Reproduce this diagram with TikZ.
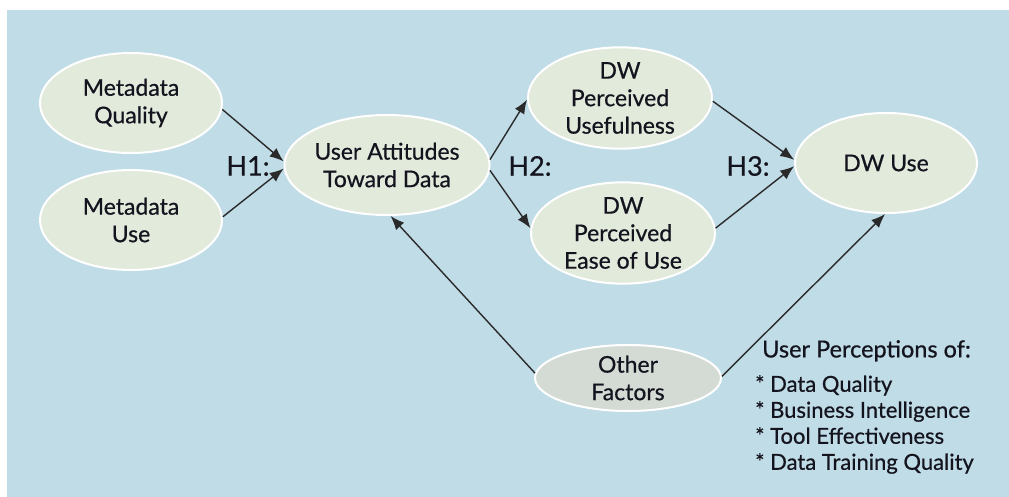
\documentclass[tikz,border=0pt]{standalone}
\usepackage{fontspec}
\setmainfont{Lato}[BoldFont=Lato, BoldFeatures={FakeBold=0.6}]
\usetikzlibrary{shapes.geometric,arrows.meta}
\definecolor{bgblue}{HTML}{C0DCE6}
\definecolor{ellfill}{HTML}{E2EADC}
\definecolor{othfill}{HTML}{D4DBD4}
\definecolor{txt}{HTML}{14141F}
\definecolor{arr}{HTML}{2A2A2A}
\tikzset{
  ell/.style={ellipse, draw=white, line width=2pt, fill=ellfill, inner sep=0pt,
    minimum width=182pt, minimum height=100pt, align=center, text=txt,
    font=\fontsize{23}{27.5}\selectfont\bfseries},
  conn/.style={draw=arr, line width=1.4pt, -{Latex[length=14pt,width=11pt]}},
  hlab/.style={text=txt, font=\fontsize{27}{30}\selectfont\bfseries, inner sep=0pt},
  listtxt/.style={text=txt, font=\fontsize{22}{26}\selectfont\bfseries, inner sep=0pt, align=left, anchor=north west}
}
\begin{document}
\begin{tikzpicture}[x=1pt,y=-1pt]
\useasboundingbox (0,0) rectangle (1009,497);
\fill[bgblue] (7,10) rectangle (1009,497);
\node[ell] (mq) at (131,103) {Metadata\\Quality};
\node[ell] (mu) at (131,220) {Metadata\\Use};
\node[ell, minimum width=180pt] (ua) at (387,165) {User Attitudes\\Toward Data};
\node[ell, minimum width=184pt] (pu) at (620,98) {DW\\Perceived\\Usefulness};
\node[ell, minimum width=184pt] (pe) at (623,233) {DW\\Perceived\\Ease of Use};
\node[ell] (dw) at (886,163) {DW Use};
\node[ell, fill=othfill, minimum width=186pt, minimum height=66pt] (of) at (628,378) {Other\\Factors};
\node[hlab] (h1) at (248,166) {H1:};
\node[hlab] (h2) at (530,166) {H2:};
\node[hlab] (h3) at (748,166) {H3:};
\node[listtxt, font=\fontsize{23.5}{26}\selectfont\bfseries] (up) at (762,340) {User Perceptions of:};
\node[listtxt] (ls) at (755,375) {* Data Quality\\* Business Intelligence\\* Tool Effectiveness\\* Data Training Quality};
\draw[conn] (mq.-4) -- (ua.178);
\draw[conn] (mu.2) -- (ua.182);
\draw[conn] (ua.3) -- (pu.181);
\draw[conn] (ua.-3) -- (pe.177);
\draw[conn] (pu.-2) -- (dw.178);
\draw[conn] (pe.3) -- (dw.182);
\draw[conn] (of.177) -- (ua.-86);
\draw[conn] (of.1) -- (dw.-91);
\end{tikzpicture}
\end{document}
